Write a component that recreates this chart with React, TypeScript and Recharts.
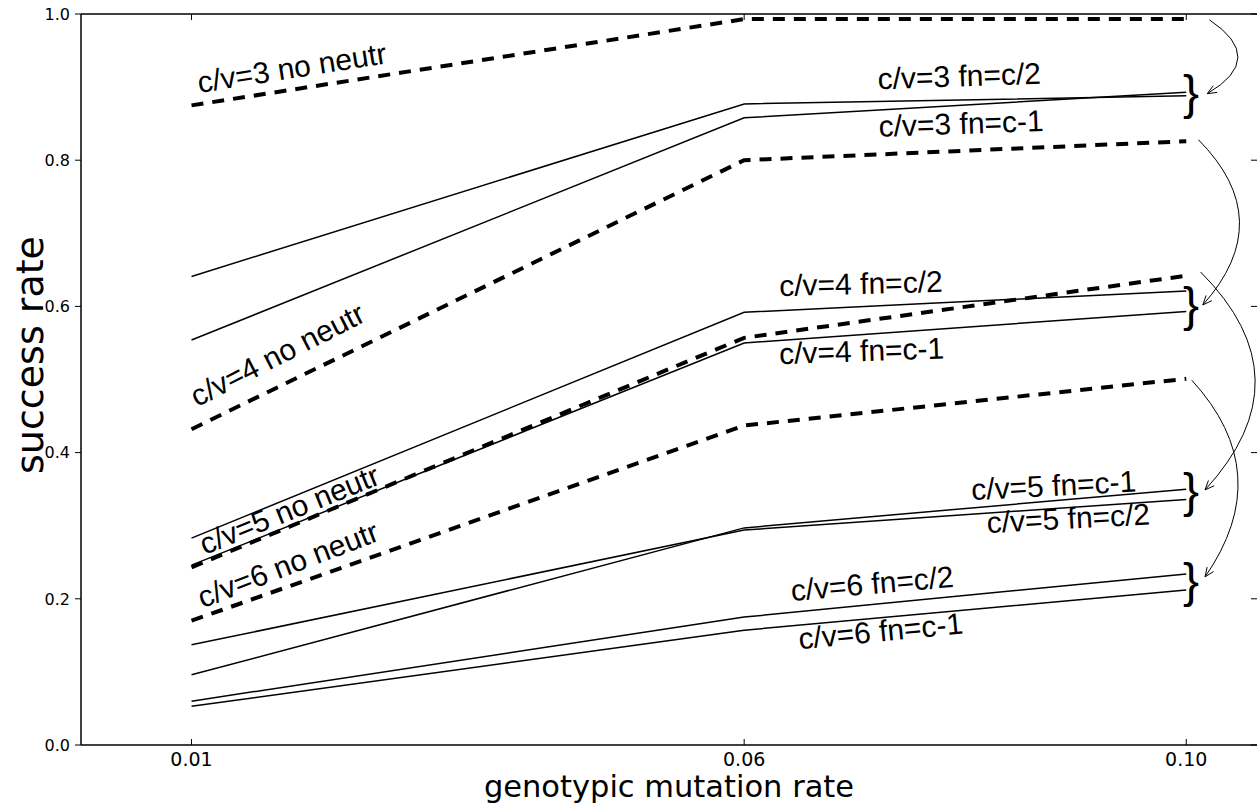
import React from "react";
import { LineChart, Line, XAxis, YAxis, ReferenceLine, ReferenceDot } from "recharts";

const rates = [0.01, 0.06, 0.1];
const yTicks = [0, 0.2, 0.4, 0.6, 0.8, 1.0];

// dashed: no neutrality
const noNeutr3 = [0.875, 0.993, 0.993];
const noNeutr4 = [0.432, 0.8, 0.826];
const noNeutr5 = [0.243, 0.557, 0.642];
const noNeutr6 = [0.17, 0.437, 0.501];
// solid: fn=c/2
const half3 = [0.641, 0.877, 0.888];
const half4 = [0.283, 0.592, 0.621];
const half5 = [0.137, 0.294, 0.336];
const half6 = [0.06, 0.175, 0.234];
// solid: fn=c-1
const minus3 = [0.554, 0.858, 0.893];
const minus4 = [0.246, 0.55, 0.593];
const minus5 = [0.096, 0.297, 0.35];
const minus6 = [0.053, 0.157, 0.212];

const data = rates.map((rate, i) => ({
  rate,
  noNeutr3: noNeutr3[i],
  noNeutr4: noNeutr4[i],
  noNeutr5: noNeutr5[i],
  noNeutr6: noNeutr6[i],
  half3: half3[i],
  half4: half4[i],
  half5: half5[i],
  half6: half6[i],
  minus3: minus3[i],
  minus4: minus4[i],
  minus5: minus5[i],
  minus6: minus6[i],
}));

const dashedKeys = ["noNeutr3", "noNeutr4", "noNeutr5", "noNeutr6"];
const solidKeys = ["half3", "minus3", "half4", "minus4", "half5", "minus5", "half6", "minus6"];

// annotation texts, placed in data coords
const labels = [
  { text: "c/v=3 no neutr", x: 0.0107, y: 0.892, angle: -9 },
  { text: "c/v=3 fn=c/2", x: 0.0721, y: 0.897, angle: -2 },
  { text: "c/v=3 fn=c-1", x: 0.0722, y: 0.832, angle: -2 },
  { text: "c/v=4 no neutr", x: 0.0105, y: 0.462, angle: -27 },
  { text: "c/v=4 fn=c/2", x: 0.0632, y: 0.614, angle: -1.5 },
  { text: "c/v=4 fn=c-1", x: 0.0632, y: 0.521, angle: -2 },
  { text: "c/v=5 no neutr", x: 0.0112, y: 0.26, angle: -22 },
  { text: "c/v=6 no neutr", x: 0.011, y: 0.187, angle: -21 },
  { text: "c/v=5 fn=c-1", x: 0.0806, y: 0.335, angle: -3 },
  { text: "c/v=5 fn=c/2", x: 0.082, y: 0.29, angle: -3 },
  { text: "c/v=6 fn=c/2", x: 0.0643, y: 0.197, angle: -5 },
  { text: "c/v=6 fn=c-1", x: 0.065, y: 0.131, angle: -5.5 },
];

const braceX = 0.0997;
const braceYs = [0.892, 0.602, 0.347, 0.224];

const arrows = [
  { x1: 0.1021, y1: 0.992, x2: 0.1019, y2: 0.891, rad: 0.8 },
  { x1: 0.1011, y1: 0.828, x2: 0.1015, y2: 0.602, rad: 0.47 },
  { x1: 0.1013, y1: 0.647, x2: 0.1017, y2: 0.349, rad: 0.48 },
  { x1: 0.1005, y1: 0.499, x2: 0.1017, y2: 0.23, rad: 0.4 },
];

const W = 1257;
const H = 803;
const PLOT_TOP = 14;
const PLOT_LEFT = 81;
const PLOT_RIGHT = W;
const LABEL_FONT = "'Liberation Sans', Arial, sans-serif";
const TICK_FONT = "'DejaVu Sans', sans-serif";

const XTick = (props: any) => {
  const { x, y, payload } = props;
  return (
    <g>
      <line x1={x} x2={x} y1={y} y2={y - 6} stroke="#000" strokeWidth={1} />
      <line x1={x} x2={x} y1={PLOT_TOP} y2={PLOT_TOP + 6} stroke="#000" strokeWidth={1} />
      <text x={x} y={y + 21} textAnchor="middle" fontSize={19} fontFamily={TICK_FONT} fill="#000">
        {Number(payload.value).toFixed(2)}
      </text>
    </g>
  );
};

const YTick = (props: any) => {
  const { x, y, payload } = props;
  return (
    <g>
      <line x1={x} x2={x - 6} y1={y} y2={y} stroke="#000" strokeWidth={1} />
      <line x1={PLOT_RIGHT - 6} x2={PLOT_RIGHT} y1={y} y2={y} stroke="#000" strokeWidth={1} />
      <text x={x - 11} y={y} dy="0.36em" textAnchor="end" fontSize={16} fontFamily={TICK_FONT} fill="#000">
        {Number(payload.value).toFixed(1)}
      </text>
    </g>
  );
};

const arrowShape = (rad: number) => (p: any) => {
  const { x1, y1, x2, y2 } = p;
  const dx = x2 - x1;
  const dy = y2 - y1;
  const cx = (x1 + x2) / 2 + rad * dy;
  const cy = (y1 + y2) / 2 - rad * dx;
  const ang = Math.atan2(y2 - cy, x2 - cx);
  const len = 10;
  const spread = 0.4;
  const ax = x2 - len * Math.cos(ang - spread);
  const ay = y2 - len * Math.sin(ang - spread);
  const bx = x2 - len * Math.cos(ang + spread);
  const by = y2 - len * Math.sin(ang + spread);
  return (
    <g>
      <path d={`M${x1},${y1} Q${cx},${cy} ${x2},${y2}`} fill="none" stroke="#000" strokeWidth={1} />
      <path d={`M${ax},${ay} L${x2},${y2} L${bx},${by}`} fill="none" stroke="#000" strokeWidth={1} />
    </g>
  );
};

export default function App() {
  return (
    <div style={{ position: "absolute", left: 0, top: 0, background: "#fff" }}>
      <LineChart width={W} height={H} data={data} margin={{ top: PLOT_TOP, right: 0, bottom: 0, left: 0 }}>
        <XAxis
          dataKey="rate"
          type="number"
          domain={[0, 0.1064]}
          ticks={rates}
          allowDataOverflow
          height={58}
          tickLine={false}
          tickSize={0}
          tickMargin={0}
          tick={<XTick />}
          axisLine={{ stroke: "#000", strokeWidth: 1.5 }}
          label={{
            value: "genotypic mutation rate",
            content: () => (
              <text x={(PLOT_LEFT + PLOT_RIGHT) / 2} y={797} textAnchor="middle" fontSize={30.5} fontFamily={TICK_FONT} fill="#000">
                genotypic mutation rate
              </text>
            ),
          }}
        />
        <YAxis
          type="number"
          domain={[0, 1]}
          ticks={yTicks}
          width={PLOT_LEFT}
          tickLine={false}
          tickSize={0}
          tickMargin={0}
          tick={<YTick />}
          axisLine={{ stroke: "#000", strokeWidth: 1.5 }}
          label={{
            value: "success rate",
            content: () => (
              <text x={43} y={355} transform="rotate(-90 43 355)" textAnchor="middle" fontSize={38} fontFamily={TICK_FONT} fill="#000">
                success rate
              </text>
            ),
          }}
        />
        <ReferenceLine y={1} stroke="#000" strokeWidth={1.5} />
        {solidKeys.map((k) => (
          <Line key={k} type="linear" dataKey={k} stroke="#000" strokeWidth={1.5} dot={false} isAnimationActive={false} />
        ))}
        {dashedKeys.map((k) => (
          <Line
            key={k}
            type="linear"
            dataKey={k}
            stroke="#000"
            strokeWidth={4}
            strokeDasharray="12 9"
            dot={false}
            isAnimationActive={false}
          />
        ))}
        {labels.map((l) => (
          <ReferenceDot
            key={l.text}
            x={l.x}
            y={l.y}
            r={0}
            ifOverflow="visible"
            shape={(p: any) => (
              <text
                x={p.cx}
                y={p.cy}
                transform={`rotate(${l.angle} ${p.cx} ${p.cy})`}
                fontSize={30}
                fontFamily={LABEL_FONT}
                fill="#000"
              >
                {l.text}
              </text>
            )}
          />
        ))}
        {braceYs.map((by, i) => (
          <ReferenceDot
            key={"brace" + i}
            x={braceX}
            y={by}
            r={0}
            ifOverflow="visible"
            shape={(p: any) => (
              <text x={p.cx} y={p.cy} dy="0.33em" fontSize={48} fontFamily={LABEL_FONT} fill="#000">
                {"}"}
              </text>
            )}
          />
        ))}
        {arrows.map((a, i) => (
          <ReferenceLine
            key={"arrow" + i}
            segment={[
              { x: a.x1, y: a.y1 },
              { x: a.x2, y: a.y2 },
            ]}
            ifOverflow="visible"
            shape={arrowShape(a.rad)}
          />
        ))}
      </LineChart>
    </div>
  );
}
